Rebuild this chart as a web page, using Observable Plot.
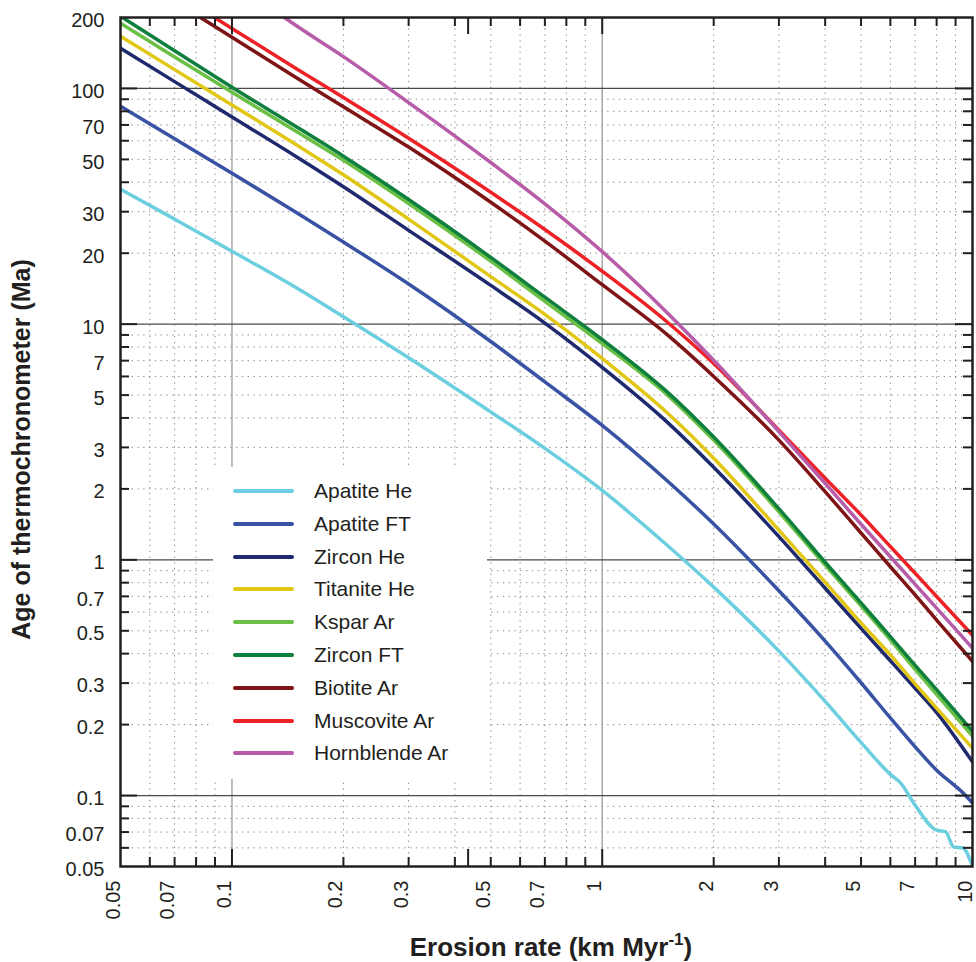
<!DOCTYPE html>
<html>
<head>
<meta charset="utf-8">
<script src="https://cdn.jsdelivr.net/npm/d3@7"></script>
<script src="https://cdn.jsdelivr.net/npm/@observablehq/plot@0.6"></script>
<style>
  body { margin: 0; background: #fff; font-family: "Liberation Sans", Arial, Helvetica, sans-serif; color: #231f20; }
  #wrap { position: relative; width: 976px; height: 962px; overflow: hidden; background: #fff; }
  #legend { position: absolute; left: 213px; top: 467px; width: 274px; height: 312px; background: #fff; }
  .row { position: absolute; left: 0; width: 100%; height: 32px; display: flex; align-items: center; }
  .sw { margin-left: 20px; width: 61px; height: 4px; border-radius: 2px; }
  .lab { margin-left: 20px; font-size: 21px; line-height: 32px; white-space: nowrap; }
</style>
</head>
<body>
<div id="wrap"><div id="chart"></div><div id="legend"></div></div>
<script>
// ---- series names and colours ----
const seriesNames = ["Apatite He", "Apatite FT", "Zircon He", "Titanite He", "Kspar Ar", "Zircon FT", "Biotite Ar", "Muscovite Ar", "Hornblende Ar"];
const seriesColors = ["#6ccfdf", "#3953a4", "#1f2a6e", "#e2c614", "#6abf45", "#0e7f3c", "#7f1416", "#ee2226", "#b75ca8"];

// ---- data: erosion rate (km/Myr) and age (Ma) ----
const apatiteHeRate = [0.05, 0.07, 0.1, 0.15, 0.2, 0.3, 0.5, 0.7, 1, 1.5, 2, 3, 4, 5, 6, 6.4, 7, 8, 8.45, 8.9, 9.4, 10];
const apatiteHeAge  = [37.4, 27.9, 20.4, 14.2, 10.75, 7.2, 4.24, 2.97, 1.97, 1.15, 0.766, 0.41, 0.251, 0.168, 0.123, 0.113, 0.091, 0.0713, 0.0703, 0.0605, 0.060, 0.05];

const apatiteFTRate = [0.05, 0.07, 0.1, 0.15, 0.2, 0.3, 0.5, 0.7, 1, 1.5, 2, 3, 4, 5, 6, 7, 8, 9.45, 10];
const apatiteFTAge  = [84.1, 61.2, 43.7, 29.6, 22.3, 14.8, 8.44, 5.69, 3.72, 2.16, 1.42, 0.739, 0.452, 0.301, 0.2135, 0.161, 0.128, 0.1023, 0.093];

const zirconHeRate = [0.05, 0.07, 0.1, 0.15, 0.2, 0.3, 0.5, 0.7, 1, 1.5, 2, 3, 4, 5, 6, 7, 8, 10];
const zirconHeAge  = [148.2, 106.9, 75.7, 51.1, 38.3, 25.0, 14.6, 10.1, 6.55, 3.83, 2.47, 1.255, 0.758, 0.512, 0.373, 0.285, 0.225, 0.139];

const titaniteHeRate = [0.05, 0.07, 0.1, 0.15, 0.2, 0.3, 0.5, 0.7, 1, 1.5, 2, 3, 4, 5, 6, 7, 8, 10];
const titaniteHeAge  = [166.6, 120.2, 85.1, 57.4, 43.05, 27.9, 15.9, 11.0, 7.15, 4.2, 2.7, 1.336, 0.805, 0.540, 0.395, 0.298, 0.235, 0.159];

const ksparArRate = [0.05, 0.07, 0.1, 0.15, 0.2, 0.3, 0.5, 0.7, 1, 1.5, 2, 3, 4, 5, 6, 7, 8, 10];
const ksparArAge  = [189.1, 136, 96.3, 65.4, 49.6, 32.5, 18.5, 12.5, 8.27, 5.0, 3.22, 1.60, 0.949, 0.638, 0.458, 0.343, 0.269, 0.1785];

const zirconFTRate = [0.05, 0.07, 0.1, 0.15, 0.2, 0.3, 0.5, 0.7, 1, 1.5, 2, 3, 4, 5, 6, 7, 8, 10];
const zirconFTAge  = [202.5, 144.6, 101.2, 68.5, 51.6, 33.8, 19.2, 13.01, 8.6, 5.15, 3.32, 1.648, 0.977, 0.657, 0.472, 0.357, 0.2815, 0.1875];

const biotiteArRate = [0.0812, 0.1, 0.15, 0.2, 0.3, 0.5, 0.7, 1, 1.5, 2, 3, 4, 5, 6, 7, 8, 10];
const biotiteArAge  = [202.5, 165.0, 110.5, 83.6, 56.4, 32.9, 22.5, 14.7, 9.0, 6.0, 3.22, 1.946, 1.3, 0.935, 0.71, 0.555, 0.371];

const muscoviteArRate = [0.0886, 0.1, 0.15, 0.2, 0.3, 0.5, 0.7, 1, 1.5, 2, 3, 4, 5, 6, 7, 8, 10];
const muscoviteArAge  = [202.5, 179.8, 120.7, 91.5, 61.5, 36.3, 25.2, 16.77, 10.19, 6.81, 3.55, 2.22, 1.551, 1.139, 0.877, 0.699, 0.479];

const hornblendeArRate = [0.137, 0.15, 0.2, 0.3, 0.5, 0.7, 1, 1.5, 2, 3, 4, 5, 6, 7, 8, 10];
const hornblendeArAge  = [202.5, 183.5, 136.5, 87.1, 48.5, 32.4, 20.3, 11.16, 7.03, 3.50, 2.11, 1.416, 1.031, 0.787, 0.624, 0.422];

// ---- ticks and grid ----
const xTickLabels = [0.05, 0.07, 0.1, 0.2, 0.3, 0.5, 0.7, 1, 2, 3, 5, 7, 10];
const yTickLabels = [0.05, 0.07, 0.1, 0.2, 0.3, 0.5, 0.7, 1, 2, 3, 5, 7, 10, 20, 30, 50, 70, 100, 200];
const xMinor = [0.06, 0.07, 0.08, 0.09, 0.2, 0.3, 0.4, 0.5, 0.6, 0.7, 0.8, 0.9, 2, 3, 4, 5, 6, 7, 8, 9];
const yMinor = [0.06, 0.07, 0.08, 0.09, 0.2, 0.3, 0.4, 0.5, 0.6, 0.7, 0.8, 0.9, 2, 3, 4, 5, 6, 7, 8, 9, 20, 30, 40, 50, 60, 70, 80, 90];
const xMajorGrid = [0.1, 1];
const yMajorGrid = [0.1, 1, 10, 100];
const xMajorTicks = [0.1, 0.4343, 1];
const yMajorTicks = [0.1, 1, 10, 100];

const seriesRates = [apatiteHeRate, apatiteFTRate, zirconHeRate, titaniteHeRate, ksparArRate, zirconFTRate, biotiteArRate, muscoviteArRate, hornblendeArRate];
const seriesAges  = [apatiteHeAge, apatiteFTAge, zirconHeAge, titaniteHeAge, ksparArAge, zirconFTAge, biotiteArAge, muscoviteArAge, hornblendeArAge];

const rows = [];
seriesNames.forEach((name, k) => {
  seriesRates[k].forEach((r, i) => rows.push({series: name, rate: r, age: seriesAges[k][i]}));
});

const W = 976, H = 962, mL = 120, mR = 4, mT = 17, mB = 96;
const pW = W - mL - mR, pH = H - mT - mB;
const ink = "#231f20";
const fmt = d => String(d);

const chart = Plot.plot({
  width: W, height: H,
  marginLeft: mL, marginRight: mR, marginTop: mT, marginBottom: mB,
  x: {type: "log", domain: [0.05, 10], axis: null},
  y: {type: "log", domain: [0.05, 200], axis: null},
  color: {domain: seriesNames, range: seriesColors},
  style: {fontFamily: "'Liberation Sans', Arial, Helvetica, sans-serif", color: ink, background: "white"},
  marks: [
    Plot.ruleX(xMinor, {x: d => d, stroke: "#8c8c8c", strokeWidth: 1, strokeDasharray: "1.4,4.4"}),
    Plot.ruleY(yMinor, {y: d => d, stroke: "#8c8c8c", strokeWidth: 1, strokeDasharray: "1.4,4.4"}),
    Plot.ruleX(xMajorGrid, {x: d => d, stroke: "#a8a8a8", strokeWidth: 1.5}),
    Plot.ruleY(yMajorGrid, {y: d => d, stroke: "#4a4a4a", strokeWidth: 1.3}),
    Plot.line(rows, {x: "rate", y: "age", z: "series", stroke: "series", strokeWidth: 3.5, strokeLinejoin: "round", curve: "monotone-x", clip: true}),
    // inward ticks, bottom/top
    Plot.tickX(xMinor, {x: d => d, insetTop: pH - 9, stroke: ink, strokeWidth: 2}),
    Plot.tickX(xMinor, {x: d => d, insetBottom: pH - 9, stroke: ink, strokeWidth: 2}),
    Plot.tickX(xMajorTicks, {x: d => d, insetTop: pH - 17, stroke: ink, strokeWidth: 2}),
    Plot.tickX(xMajorTicks, {x: d => d, insetBottom: pH - 17, stroke: ink, strokeWidth: 2}),
    // inward ticks, left/right
    Plot.tickY(yMinor, {y: d => d, insetRight: pW - 9, stroke: ink, strokeWidth: 2}),
    Plot.tickY(yMinor, {y: d => d, insetLeft: pW - 9, stroke: ink, strokeWidth: 2}),
    Plot.tickY(yMajorTicks, {y: d => d, insetRight: pW - 17, stroke: ink, strokeWidth: 2}),
    Plot.tickY(yMajorTicks, {y: d => d, insetLeft: pW - 17, stroke: ink, strokeWidth: 2}),
    Plot.frame({stroke: ink, strokeWidth: 2.5}),
    Plot.text(xTickLabels, {x: d => d, frameAnchor: "bottom", rotate: -90, textAnchor: "end", dy: 14, dx: -1, fontSize: 20, fill: ink, text: fmt}),
    Plot.text(yTickLabels, {y: d => d, frameAnchor: "left", textAnchor: "end", dx: -16, dy: 3, fontSize: 20, fill: ink, text: fmt})
  ]
});

const svg = d3.select(chart);
const xt = svg.append("text")
  .attr("x", mL + pW / 2 + 5).attr("y", 956)
  .attr("text-anchor", "middle").attr("font-weight", "bold").attr("font-size", 26).attr("fill", ink);
xt.append("tspan").text("Erosion rate (km Myr");
xt.append("tspan").attr("dy", -11).attr("font-size", 17).text("-1");
xt.append("tspan").attr("dy", 11).text(")");
svg.append("text")
  .attr("transform", `translate(30,${mT + pH / 2 + 8}) rotate(-90)`)
  .attr("text-anchor", "middle").attr("font-weight", "bold").attr("font-size", 25).attr("fill", ink)
  .text("Age of thermochronometer (Ma)");

document.getElementById("chart").appendChild(chart);

const legend = document.getElementById("legend");
seriesNames.forEach((name, i) => {
  const row = document.createElement("div");
  row.className = "row";
  row.style.top = (24 + i * 32.8 - 16) + "px";
  const sw = document.createElement("div");
  sw.className = "sw";
  sw.style.background = seriesColors[i];
  const lab = document.createElement("div");
  lab.className = "lab";
  lab.textContent = name;
  row.appendChild(sw);
  row.appendChild(lab);
  legend.appendChild(row);
});
</script>
</body>
</html>
